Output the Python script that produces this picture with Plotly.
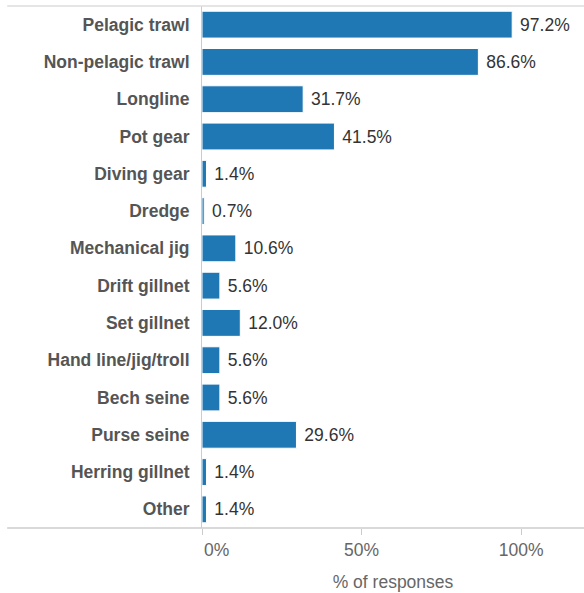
import plotly.graph_objects as go

categories = ["Pelagic trawl", "Non-pelagic trawl", "Longline", "Pot gear", "Diving gear",
              "Dredge", "Mechanical jig", "Drift gillnet", "Set gillnet", "Hand line/jig/troll",
              "Bech seine", "Purse seine", "Herring gillnet", "Other"]
values = [97.2, 86.6, 31.7, 41.5, 1.4, 0.7, 10.6, 5.6, 12.0, 5.6, 5.6, 29.6, 1.4, 1.4]
tick_vals = [0, 50, 100]
tick_text = ["\u00a0\u00a0\u00a0\u00a0\u00a0\u00a00%", "50%", "100%"]

FONT = "Liberation Sans, Arial, sans-serif"

fig = go.Figure(go.Bar(
    x=values, y=categories, orientation="h",
    marker=dict(color="#1f77b4", line=dict(color="white", width=1)),
    text=["\u00a0%.1f%%" % v for v in values],
    textposition="outside", cliponaxis=False,
    textfont=dict(family=FONT, size=17.5, color="#333333"),
    hoverinfo="skip",
))

fig.update_layout(
    width=584, height=593,
    margin=dict(l=202, r=0, t=6, b=65),
    plot_bgcolor="white", paper_bgcolor="white",
    bargap=0.28, showlegend=False,
    font=dict(family=FONT),
    shapes=[
        dict(type="line", xref="paper", yref="paper", x0=-0.51, x1=1, y0=1, y1=1,
             line=dict(color="#dddddd", width=1.5)),
        dict(type="line", xref="paper", yref="paper", x0=-0.51, x1=1, y0=0, y1=0,
             line=dict(color="#cccccc", width=1.5)),
    ],
)
fig.update_xaxes(
    range=[0, 119.7], tickvals=tick_vals, ticktext=tick_text,
    showgrid=False, zeroline=False, showline=False,
    ticks="outside", ticklen=6, tickcolor="#cccccc",
    tickfont=dict(family=FONT, size=17.5, color="#666666"),
    title=dict(text="% of responses", font=dict(family=FONT, size=17.5, color="#666666"), standoff=16),
    automargin=False,
)
fig.update_yaxes(
    autorange="reversed", showgrid=False, zeroline=False,
    showline=True, linecolor="#cccccc", linewidth=1,
    ticks="", ticklabelstandoff=8,
    tickfont=dict(family=FONT, size=17.5, color="#555555", weight="bold"),
    automargin=False,
)

fig.write_html("out.html", config={"displayModeBar": False},
               post_script="document.body.style.margin='0';document.body.style.overflow='hidden';")
